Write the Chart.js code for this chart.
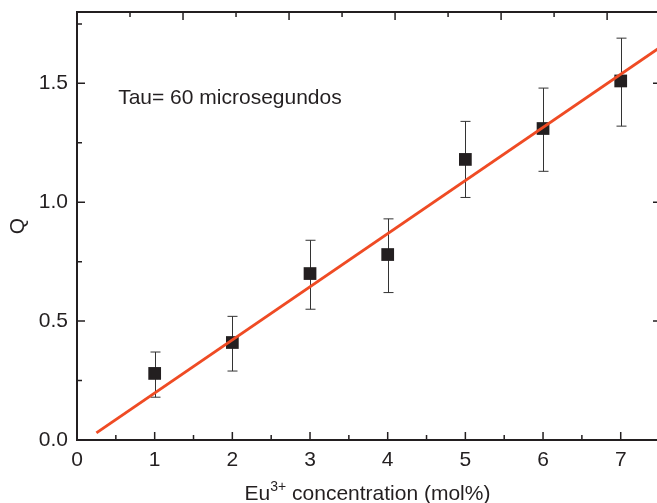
<!DOCTYPE html>
<html>
<head>
<meta charset="utf-8">
<script src="https://cdn.jsdelivr.net/npm/chart.js@4/dist/chart.umd.min.js"></script>
<style>
  body { margin: 0; overflow: hidden; background: #fff; }
</style>
</head>
<body>
<canvas id="qChart" width="660" height="503"></canvas>
<script>
// data
var conc = [1, 2, 3, 4, 5, 6, 7];
var qVals = [0.28, 0.41, 0.70, 0.78, 1.18, 1.31, 1.51];
var qErrHi = [0.37, 0.52, 0.84, 0.93, 1.34, 1.48, 1.69];
var qErrLo = [0.18, 0.29, 0.55, 0.62, 1.02, 1.13, 1.32];
var fitX = [0.25, 7.5];
var fitY = [0.03, 1.65];
var xTicks = [0, 1, 2, 3, 4, 5, 6, 7];
var yTicks = [0.0, 0.5, 1.0, 1.5];
var noteText = 'Tau= 60 microsegundos';

var FONT = '"Liberation Sans", Arial, sans-serif';
var INK = '#231f20';

var framePlugin = {
    id: 'frame',
    beforeDatasetsDraw: function (chart) {
        var ctx = chart.ctx;
        var xs = chart.scales.x, ys = chart.scales.y;
        ctx.save();
        ctx.strokeStyle = '#333';
        ctx.lineWidth = 1;
        for (var i = 0; i < conc.length; i++) {
            var px = Math.round(xs.getPixelForValue(conc[i])) + 0.5;
            var top = ys.getPixelForValue(qErrHi[i]);
            var bot = ys.getPixelForValue(qErrLo[i]);
            ctx.beginPath();
            ctx.moveTo(px, top); ctx.lineTo(px, bot);
            ctx.moveTo(px - 5, top); ctx.lineTo(px + 5, top);
            ctx.moveTo(px - 5, bot); ctx.lineTo(px + 5, bot);
            ctx.stroke();
        }
        ctx.restore();
    },
    afterDraw: function (chart) {
        var ctx = chart.ctx;
        var a = chart.chartArea;
        var xs = chart.scales.x, ys = chart.scales.y, xt = chart.scales.x2;
        ctx.save();
        ctx.strokeStyle = INK;
        ctx.lineWidth = 2;
        ctx.beginPath();
        ctx.moveTo(a.left, a.top); ctx.lineTo(a.left, a.bottom);
        ctx.moveTo(a.left - 1, a.bottom); ctx.lineTo(a.right, a.bottom);
        ctx.moveTo(a.left - 1, a.top); ctx.lineTo(a.right, a.top);
        ctx.moveTo(a.right, a.top); ctx.lineTo(a.right, a.bottom);
        ctx.stroke();

        ctx.lineWidth = 1.5;
        ctx.beginPath();
        // bottom ticks (inward)
        for (var v = 0; v <= xs.max; v += 0.5) {
            var px = xs.getPixelForValue(v);
            var len = (v % 1 === 0) ? 8 : 5;
            ctx.moveTo(px, a.bottom); ctx.lineTo(px, a.bottom - len);
        }
        // top ticks from the secondary axis
        for (var t = 0; t <= xt.max; t += 0.5) {
            var tx = xt.getPixelForValue(t);
            var tl = (t % 1 === 0) ? 8 : 5;
            ctx.moveTo(tx, a.top); ctx.lineTo(tx, a.top + tl);
        }
        // left ticks
        for (var w = 0; w <= ys.max; w += 0.25) {
            var py = ys.getPixelForValue(w);
            var yl = (Math.abs(w * 2 - Math.round(w * 2)) < 1e-6) ? 8 : 5;
            ctx.moveTo(a.left, py); ctx.lineTo(a.left + yl, py);
        }
        // right ticks
        yTicks.forEach(function (yv) {
            var ry = ys.getPixelForValue(yv);
            ctx.moveTo(a.right, ry); ctx.lineTo(a.right - 5, ry);
        });
        ctx.stroke();

        // note
        ctx.fillStyle = INK;
        ctx.font = '21px ' + FONT;
        ctx.textAlign = 'left';
        ctx.textBaseline = 'alphabetic';
        ctx.fillText(noteText, xs.getPixelForValue(0.53), ys.getPixelForValue(1.415));

        // x title with superscript
        var part1 = 'Eu', sup = '3+', part2 = ' concentration (mol%)';
        ctx.font = '21px ' + FONT;
        var w1 = ctx.measureText(part1).width;
        var w3 = ctx.measureText(part2).width;
        ctx.font = '14px ' + FONT;
        var w2 = ctx.measureText(sup).width;
        var total = w1 + w2 + w3;
        var sx = (a.left + a.right) / 2 - total / 2;
        var base = 500;
        ctx.font = '21px ' + FONT;
        ctx.fillText(part1, sx, base);
        ctx.font = '14px ' + FONT;
        ctx.fillText(sup, sx + w1, base - 9);
        ctx.font = '21px ' + FONT;
        ctx.fillText(part2, sx + w1 + w2, base);
        ctx.restore();
    }
};

var ctx = document.getElementById('qChart').getContext('2d');
var qChart = new Chart(ctx, {
    data: {
        datasets: [{
            type: 'line',
            label: 'Fit',
            data: fitX.map(function (x, i) { return { x: x, y: fitY[i] }; }),
            borderColor: '#EF4B24',
            borderWidth: 3,
            pointRadius: 0,
            order: 0
        }, {
            type: 'scatter',
            label: 'Q',
            data: conc.map(function (x, i) { return { x: x, y: qVals[i] }; }),
            pointStyle: 'rect',
            pointRadius: 9,
            backgroundColor: INK,
            borderWidth: 0,
            order: 1
        }]
    },
    options: {
        responsive: false,
        animation: false,
        layout: { autoPadding: false, padding: { left: 0, right: 2, top: 0, bottom: 0 } },
        plugins: {
            legend: { display: false },
            tooltip: { enabled: false }
        },
        scales: {
            x: {
                type: 'linear',
                position: 'bottom',
                min: 0,
                max: 7.48,
                afterFit: function (s) {
                    s.height = 63;
                    s.paddingLeft = 0; s.paddingRight = 0;
                },
                afterBuildTicks: function (s) {
                    s.ticks = xTicks.map(function (v) { return { value: v }; });
                },
                ticks: {
                    padding: 8,
                    color: INK,
                    font: { family: FONT, size: 21 },
                    callback: function (v) { return String(v); }
                },
                grid: { display: false, drawTicks: false },
                border: { display: false }
            },
            x2: {
                type: 'linear',
                position: 'top',
                min: 0,
                max: 5.48,
                afterFit: function (s) {
                    s.height = 12;
                    s.paddingLeft = 0; s.paddingRight = 0;
                },
                ticks: { display: false, stepSize: 1 },
                grid: { display: false, drawTicks: false },
                border: { display: false }
            },
            y: {
                type: 'linear',
                min: 0,
                max: 1.8,
                afterFit: function (s) {
                    s.width = 77;
                    s.paddingTop = 0; s.paddingBottom = 0;
                },
                afterBuildTicks: function (s) {
                    s.ticks = yTicks.map(function (v) { return { value: v }; });
                },
                ticks: {
                    padding: 9,
                    color: INK,
                    font: { family: FONT, size: 21 },
                    callback: function (v) { return v.toFixed(1); }
                },
                title: {
                    display: true,
                    text: 'Q',
                    color: INK,
                    font: { family: FONT, size: 21 },
                    padding: { top: 6, bottom: 0 }
                },
                grid: { display: false, drawTicks: false },
                border: { display: false }
            }
        }
    },
    plugins: [framePlugin]
});
</script>
</body>
</html>
